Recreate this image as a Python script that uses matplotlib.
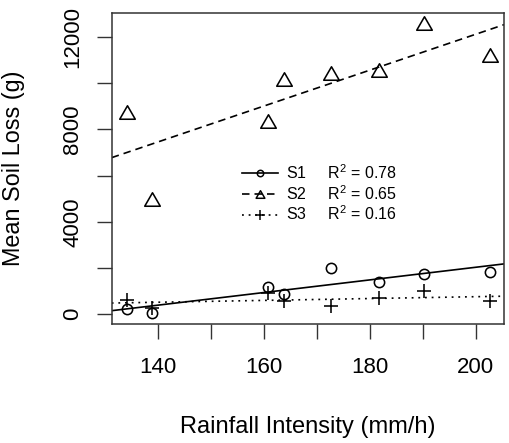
import numpy as np
import matplotlib
matplotlib.use("Agg")
import matplotlib.pyplot as plt
from matplotlib.lines import Line2D
from matplotlib.path import Path

plt.rcParams['font.family'] = ['Liberation Sans', 'DejaVu Sans']
plt.rcParams['mathtext.fontset'] = 'custom'
plt.rcParams['mathtext.rm'] = 'Liberation Sans'
plt.rcParams['mathtext.it'] = 'Liberation Sans'

# ---- data ----
rainfall = [134.0, 138.8, 160.7, 163.8, 172.6, 181.7, 190.2, 202.7]
s1_loss = [216, 43, 1193, 865, 2015, 1409, 1742, 1815]
s2_loss = [8755, 4984, 8366, 10168, 10428, 10557, 12575, 11209]
s3_loss = [618, 259, 934, 588, 359, 718, 1020, 575]
series_names = ["S1", "S2", "S3"]
r2_labels = ["0.78", "0.65", "0.16"]
x_ticks = [140, 150, 160, 170, 180, 190, 200]
x_ticklabels = ["140", "", "160", "", "180", "", "200"]
y_ticks = [0, 2000, 4000, 6000, 8000, 10000, 12000]
y_ticklabels = ["0", "", "4000", "", "8000", "", "12000"]

# equilateral triangle marker (bbox centred)
tri = Path([(0, 0.866), (-1, -0.866), (1, -0.866), (0, 0.866)],
           [Path.MOVETO, Path.LINETO, Path.LINETO, Path.CLOSEPOLY])

dpi = 100
W, H = 509, 443
L, R, T, B = 111.7, 504, 13.3, 324
fig = plt.figure(figsize=(W / dpi, H / dpi), dpi=dpi)
ax = fig.add_axes([L / W, 1 - B / H, (R - L) / W, (B - T) / H])


def ax_x(px):
    return (px - L) / (R - L)


def ax_y(py):
    return (B - py) / (B - T)


lw = 1.2
styles = [
    dict(marker='o', ms=7.4, ls='-', dashes=None, lms=4.6),
    dict(marker=tri, ms=11.2, ls='--', dashes=(4.5, 3.0), lms=6.3),
    dict(marker='+', ms=10.5, ls=':', dashes=(1.1, 2.9), lms=6.8),
]
data = [s1_loss, s2_loss, s3_loss]

xlim = (131.2, 205.35)
ax.set_xlim(*xlim)
ax.set_ylim(-419, 13012)

xs = np.array(rainfall)
handles = []
for ys, st in zip(data, styles):
    ys = np.array(ys)
    ax.plot(xs, ys, ls='none', marker=st['marker'], ms=st['ms'], mfc='none',
            mec='black', mew=lw * 0.95)
    b, a = np.polyfit(xs, ys, 1)
    xx = np.array(xlim)
    line, = ax.plot(xx, a + b * xx, color='black', lw=lw, ls=st['ls'])
    if st['dashes'] is not None:
        line.set_dashes(st['dashes'])
    h = Line2D([], [], color='black', lw=lw, ls=st['ls'], marker=st['marker'],
               ms=st['lms'], mfc='none', mec='black', mew=lw * 0.9)
    if st['dashes'] is not None:
        h.set_dashes(st['dashes'])
    handles.append(h)

ax.set_xticks(x_ticks)
ax.set_xticklabels(x_ticklabels)
ax.set_yticks(y_ticks)
ax.set_yticklabels(y_ticklabels, rotation=90, va='center')
ax.tick_params(axis='both', length=10.5, width=1.0, labelsize=16, color='#333333')
ax.tick_params(axis='x', pad=13)
ax.tick_params(axis='y', pad=10)
for sp in ax.spines.values():
    sp.set_linewidth(1.1)
    sp.set_color('#333333')

ax.set_xlabel("Rainfall Intensity (mm/h)", fontsize=17)
ax.xaxis.label.set_va('center')
ax.xaxis.set_label_coords(0.5, ax_y(426.7))
ax.set_ylabel("Mean Soil Loss (g)", fontsize=16.8)
ax.yaxis.label.set_va('center')
ax.yaxis.set_label_coords(ax_x(13.5), 0.5)

labels = [n + "     R$^2$ = " + r for n, r in zip(series_names, r2_labels)]
leg = ax.legend(handles, labels, loc='center left', frameon=False, fontsize=11.5,
                labelspacing=0.12, borderpad=0, borderaxespad=0,
                bbox_to_anchor=(ax_x(242), ax_y(193.3)),
                handlelength=2.25, handletextpad=0.5)

fig.savefig("out.png", dpi=dpi)
